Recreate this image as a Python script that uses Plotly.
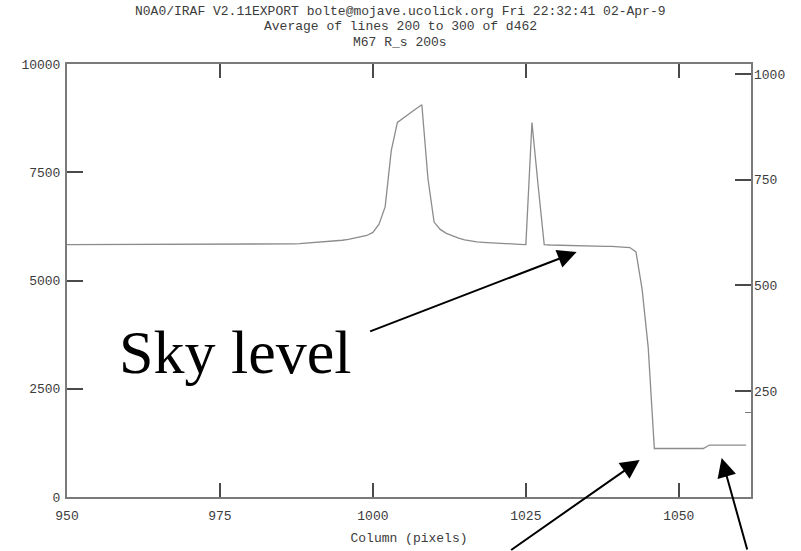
import plotly.graph_objects as go

# Column-averaged counts, lines 200-300 of d462
columns = list(range(950, 1062))
counts = (
    [5830] * 35
    + [5835, 5840, 5845, 5850, 5860, 5870, 5880, 5890, 5900, 5915,
       5930, 5950, 5975, 6000, 6040, 6110, 6300, 6700, 8000, 8650,
       8760, 8860, 8960, 9060, 7350, 6350, 6180, 6090, 6030, 5980,
       5940, 5910, 5890, 5880, 5870, 5860, 5850, 5845, 5840, 5835,
       5830, 8650, 7200, 5830, 5820, 5815, 5810, 5805, 5800, 5800,
       5800, 5795, 5795, 5790, 5790, 5785, 5780, 5760, 5660, 4800,
       3450]
    + [1120] * 9
    + [1200] * 7
)

left_ticks = [0, 2500, 5000, 7500, 10000]
left_labels = ["0", "2500", "5000", "7500", "10000"]
right_ticks = [250, 500, 750, 1000]
x_ticks = [950, 975, 1000, 1025, 1050]

title_lines = [
    "N0A0/IRAF V2.11EXPORT bolte@mojave.ucolick.org Fri 22:32:41 02-Apr-9",
    "Average of lines 200 to 300 of d462",
    "M67 R_s 200s",
]

MONO = "Liberation Mono"
FS = 13
FRAME = "#7a7a7a"
TICK = "#4a4a4a"
TXT = "#3c3c3c"

fig = go.Figure()
fig.add_trace(go.Scatter(
    x=columns, y=counts, mode="lines",
    line=dict(color="#8c8c8c", width=1.3),
    showlegend=False, hoverinfo="skip",
))
# empty trace so the right-hand scale is drawn
fig.add_trace(go.Scatter(x=[], y=[], yaxis="y2", showlegend=False, hoverinfo="skip"))

fig.update_layout(
    width=801, height=551,
    margin=dict(l=67, r=50, t=64, b=54, autoexpand=False),
    paper_bgcolor="white", plot_bgcolor="white",
    font=dict(family=MONO, size=FS, color=TXT),
    xaxis=dict(
        range=[950, 1061.8], tickvals=x_ticks, ticks="inside", ticklen=14,
        tickwidth=1.5, tickcolor=TICK, showline=True, linecolor=FRAME,
        linewidth=2, mirror="ticks", showgrid=False, zeroline=False,
        ticklabelstandoff=5, automargin=False,
        title=dict(text="Column (pixels)", standoff=10,
                   font=dict(family=MONO, size=FS, color=TXT)),
    ),
    yaxis=dict(
        range=[0, 10000], tickvals=left_ticks, ticktext=left_labels,
        ticks="inside", ticklen=16, automargin=False,
        tickwidth=1.5, tickcolor=TICK, showline=True, linecolor=FRAME,
        linewidth=2, mirror=True, showgrid=False, zeroline=False,
        ticklabelstandoff=2,
    ),
    yaxis2=dict(
        range=[0, 1023.6], tickvals=right_ticks, overlaying="y", side="right",
        ticks="inside", ticklen=16, tickwidth=1.5, tickcolor=TICK,
        showline=False, showgrid=False, zeroline=False, ticklabelstandoff=2,
        automargin=False,
        minor=dict(tickvals=[200], ticks="inside", ticklen=6, tickcolor=FRAME,
                   tickwidth=1),
    ),
)

for i, line in enumerate(title_lines):
    fig.add_annotation(
        text=line, xref="paper", yref="paper", x=(400 - 67) / 684,
        y=(497 - (12 + 15 * i)) / 433, xanchor="center", yanchor="middle",
        showarrow=False, font=dict(family=MONO, size=FS, color=TXT),
    )

fig.add_annotation(
    text="Sky level", xref="paper", yref="paper", x=(117 - 67) / 684,
    y=(497 - 352) / 433, xanchor="left", yanchor="middle", showarrow=False,
    font=dict(family="Liberation Serif", size=62, color="black"),
)

arrow = dict(text="", showarrow=True, arrowhead=2, arrowsize=1.9,
             arrowwidth=2, arrowcolor="black", xref="x", yref="y")
fig.add_annotation(x=1033.3, y=5660, ax=-208, ay=80, **arrow)
fig.add_annotation(x=1043.6, y=855, ax=-130, ay=100, **arrow)
fig.add_annotation(x=1057.0, y=900, ax=26, ay=102, **arrow)

fig.write_html("out.html")
